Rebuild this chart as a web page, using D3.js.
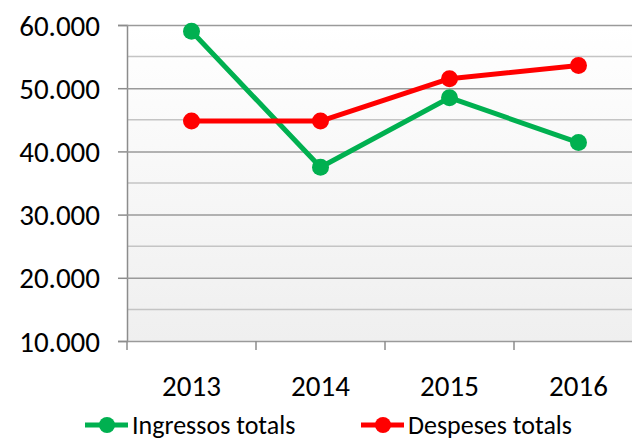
<!DOCTYPE html>
<html>
<head>
<meta charset="utf-8">
<script src="https://cdn.jsdelivr.net/npm/d3@7"></script>
<style>
  body { margin: 0; background: #fff; }
  svg text { font-family: Carlito, Lato, "Open Sans", sans-serif; fill: #000; }
</style>
</head>
<body>
<div id="chart"></div>
<script>
const years = ['2013', '2014', '2015', '2016'];
const ingressos = [59000, 37500, 48500, 41400];
const despeses = [44800, 44800, 51500, 53600];
const seriesNames = ['Ingressos totals', 'Despeses totals'];
const seriesColors = ['#00b050', '#ff0000'];
const yTicks = [10000, 20000, 30000, 40000, 50000, 60000];
const yMinorTicks = [15000, 25000, 35000, 45000, 55000];

const width = 632, height = 441;
const plot = { left: 127, top: 25, bottom: 341, colWidth: 129 };

const svg = d3.select('#chart').append('svg')
    .attr('width', width)
    .attr('height', height)

const x = d3.scaleBand()
    .domain(years)
    .range([plot.left, plot.left + plot.colWidth * years.length])

const y = d3.scaleLinear()
    .domain([10000, 60000])
    .range([plot.bottom, plot.top])

const fmt = d => d3.format(',')(d).replace(',', '.');

// plot background gradient
const grad = svg.append('defs').append('linearGradient')
    .attr('id', 'bg')
    .attr('x1', 0).attr('y1', 0).attr('x2', 0).attr('y2', 1)
grad.append('stop').attr('offset', '0%').attr('stop-color', '#ffffff')
grad.append('stop').attr('offset', '100%').attr('stop-color', '#efefef')

svg.append('rect')
    .attr('x', plot.left)
    .attr('y', y(60000))
    .attr('width', width - plot.left)
    .attr('height', y(10000) - y(60000))
    .style('fill', 'url(#bg)')

// minor gridlines
svg.append('g')
    .selectAll('line')
    .data(yMinorTicks)
    .enter().append('line')
    .attr('x1', plot.left).attr('x2', width)
    .attr('y1', d => y(d)).attr('y2', d => y(d))
    .style('stroke', '#c4c4c4')
    .style('stroke-width', '1.5px')

// y axis with major gridlines
const yAxis = svg.append('g')
    .attr('transform', `translate(${plot.left},0)`)
    .call(d3.axisLeft(y).tickValues(yTicks).tickFormat(fmt).tickSize(9).tickPadding(18))
yAxis.select('.domain').style('stroke', '#8c8c8c').style('stroke-width', '1.5px')
yAxis.selectAll('.tick line').style('stroke', '#8c8c8c').style('stroke-width', '1.5px')
yAxis.selectAll('.tick text').style('font-size', '29px').attr('dy', '0.35em')
yAxis.selectAll('.tick').append('line')
    .attr('x1', 0).attr('x2', width - plot.left)
    .style('stroke', '#9a9a9a')
    .style('stroke-width', '1.5px')

// x axis
const xAxis = svg.append('g')
    .attr('transform', `translate(0,${plot.bottom})`)
    .call(d3.axisBottom(x).tickSize(0).tickPadding(34))
xAxis.select('.domain').remove()
xAxis.selectAll('.tick text').style('font-size', '29px')
xAxis.selectAll('.sep')
    .data(years.slice(1))
    .enter().append('line')
    .attr('x1', d => x(d)).attr('x2', d => x(d))
    .attr('y1', 0).attr('y2', 9)
    .style('stroke', '#8c8c8c')
    .style('stroke-width', '1.5px')
svg.append('line')
    .attr('x1', plot.left).attr('x2', plot.left)
    .attr('y1', plot.bottom).attr('y2', plot.bottom + 9)
    .style('stroke', '#8c8c8c')
    .style('stroke-width', '1.5px')

// series
const series = [ingressos, despeses];
const cx = d => x(d) + x.bandwidth() / 2;
const line = d3.line()
    .x((d, i) => cx(years[i]))
    .y(d => y(d))

series.forEach((vals, s) => {
    svg.append('path')
        .datum(vals)
        .attr('d', line)
        .style('fill', 'none')
        .style('stroke', seriesColors[s])
        .style('stroke-width', '5px')
        .style('stroke-linejoin', 'round')
    svg.append('g')
        .selectAll('circle')
        .data(vals)
        .enter().append('circle')
        .attr('cx', (d, i) => cx(years[i]))
        .attr('cy', d => y(d))
        .attr('r', 8.5)
        .style('fill', seriesColors[s])
})

// legend
const legendX = [85, 361];
const legend = svg.append('g')
    .selectAll('g')
    .data(seriesNames)
    .enter().append('g')
    .attr('transform', (d, i) => `translate(${legendX[i]},425)`)
legend.append('line')
    .attr('x1', 0).attr('x2', 43)
    .style('stroke', (d, i) => seriesColors[i])
    .style('stroke-width', '5px')
legend.append('circle')
    .attr('cx', 22).attr('r', 8)
    .style('fill', (d, i) => seriesColors[i])
legend.append('text')
    .attr('x', 47)
    .attr('dy', '0.35em')
    .style('font-size', '26px')
    .text(d => d)
</script>
</body>
</html>
